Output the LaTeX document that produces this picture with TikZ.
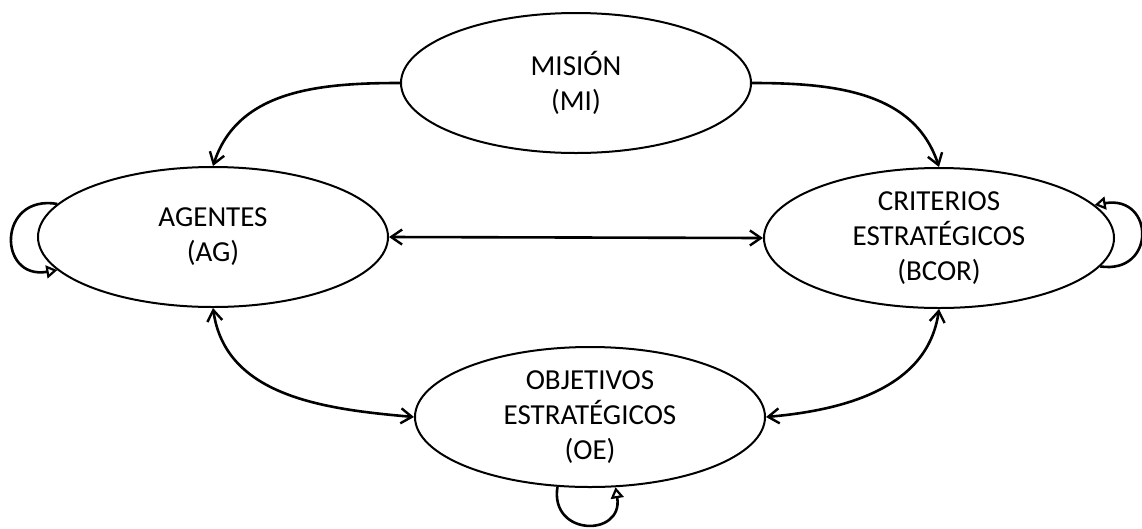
\documentclass[tikz,border=0pt]{standalone}
\usepackage{fontspec}
\setmainfont{Carlito}
\usetikzlibrary{shapes.geometric,arrows.meta}
\begin{document}
\begin{tikzpicture}[x=1pt,y=-1pt,
  state/.style={ellipse,draw=black,line width=2pt,minimum width=350pt,minimum height=140pt,inner sep=0pt,align=center,font=\fontsize{29}{35}\selectfont},
  barb/.tip={Straight Barb[length=11pt,width=15pt,line width=2.4pt]},
  link/.style={line width=2.6pt,-barb},
  blink/.style={line width=2.6pt,barb-barb},
  self/.style={line width=2.6pt,-{Triangle[open,length=11pt,width=13pt,line width=2.2pt]}}]
\useasboundingbox (0,0) rectangle (1142,528);
\node[state] (mi) at (576,83) {MISIÓN\\(MI)};
\node[state] (ag) at (213,237) {AGENTES\\(AG)};
\node[state] (cr) at (939,238) {CRITERIOS\\ESTRATÉGICOS\\(BCOR)};
\node[state] (oe) at (590,417) {OBJETIVOS\\ESTRATÉGICOS\\(OE)};
\draw[link] (mi.west) to[out=180,in=72] (ag.north);
\draw[link] (mi.east) to[out=0,in=108] (cr.north);
\draw[blink] (ag.east) -- (cr.west);
\draw[blink] (ag.south) to[out=-82,in=175] (oe.west);
\draw[blink] (cr.south) to[out=-98,in=5] (oe.east);
\draw[self] (ag.168) .. controls +(-60,-10) and +(-60,10) .. (ag.192);
\draw[self] (cr.-10) .. controls +(56,8) and +(60,-10) .. (cr.12);
\draw[self] (oe.-115) .. controls +(-8,50) and +(8,50) .. (oe.-70);
\end{tikzpicture}
\end{document}
